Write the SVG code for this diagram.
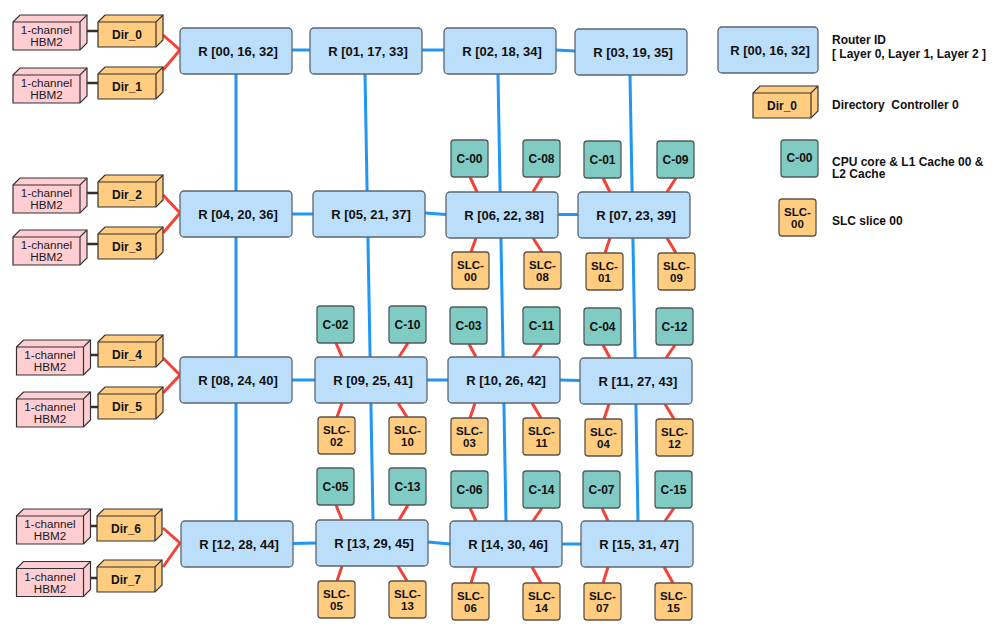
<svg xmlns="http://www.w3.org/2000/svg" xmlns:xlink="http://www.w3.org/1999/xlink" width="999" height="639" viewBox="0 0 999 639">
  <style>
    text { font-family: "Liberation Sans", Arial, sans-serif; fill: #111; }
    .router { fill: #BBDEFB; stroke: #5d6670; stroke-width: 1.3; }
    .core { fill: #80CBC4; stroke: #505a5a; stroke-width: 1.3; }
    .slc { fill: #FFCC80; stroke: #5a5448; stroke-width: 1.3; }
    .rt { font-size: 13px; font-weight: bold; text-anchor: middle; }
    .bt { font-size: 12px; font-weight: bold; text-anchor: middle; }
    .st { font-size: 11.5px; font-weight: bold; text-anchor: middle; }
    .ht { font-size: 11.7px; text-anchor: middle; fill: #1a1a1a; }
    .lt { font-size: 12px; font-weight: bold; white-space: pre; }
    .mesh { stroke: #2196F3; stroke-width: 3; fill: none; }
    .link { stroke: #F44336; stroke-width: 3; fill: none; }
    .mem { stroke: #3a2a2a; stroke-width: 2.5; fill: none; }
  </style>
  <defs>
    <!-- cube shapes for memory channels and directory controllers -->
    <g id="hbm-cube">
      <path d="M0,7 L7,0 L74,0 L74,28 L67,35 L0,35 Z" fill="#FFCDD2" stroke="#333" stroke-width="1.2"/>
      <path d="M0,7 L67,7 L74,0 M67,7 L67,35" fill="none" stroke="#333" stroke-width="1.2"/>
    </g>
    <g id="dir-cube">
      <path d="M0,7 L7,0 L65,0 L65,25 L58,32 L0,32 Z" fill="#FFCC80" stroke="#333" stroke-width="1.2"/>
      <path d="M0,7 L58,7 L65,0 M58,7 L58,32" fill="none" stroke="#333" stroke-width="1.2"/>
    </g>
  </defs>

  <!-- connectors -->
  <g id="connectors">
    <!-- mesh links: vertical -->
    <line class="mesh" x1="236" y1="74" x2="236" y2="521"/>
    <line class="mesh" x1="365" y1="74" x2="373" y2="520"/>
    <line class="mesh" x1="498" y1="74" x2="506" y2="521"/>
    <line class="mesh" x1="630" y1="75" x2="638" y2="521"/>
    <!-- mesh links: horizontal -->
    <line class="mesh" x1="292" y1="50" x2="310" y2="50"/>
    <line class="mesh" x1="422" y1="50" x2="444" y2="50"/>
    <line class="mesh" x1="556" y1="50" x2="575" y2="51"/>
    <line class="mesh" x1="292" y1="214" x2="313" y2="214"/>
    <line class="mesh" x1="425" y1="213" x2="446" y2="214.5"/>
    <line class="mesh" x1="558" y1="214.5" x2="578" y2="214.5"/>
    <line class="mesh" x1="292" y1="380" x2="315" y2="380"/>
    <line class="mesh" x1="427" y1="380" x2="448" y2="380"/>
    <line class="mesh" x1="560" y1="380" x2="580" y2="380.5"/>
    <line class="mesh" x1="293" y1="543.5" x2="316" y2="543"/>
    <line class="mesh" x1="428" y1="542" x2="450" y2="544"/>
    <line class="mesh" x1="562" y1="544" x2="581" y2="544"/>

    <!-- memory channel to directory -->
    <line class="mem" x1="87" y1="31" x2="98" y2="31"/>
    <line class="mem" x1="87" y1="83" x2="98" y2="83"/>
    <line class="mem" x1="87" y1="193" x2="98" y2="193"/>
    <line class="mem" x1="87" y1="244" x2="98" y2="244"/>
    <line class="mem" x1="90" y1="355" x2="98" y2="355"/>
    <line class="mem" x1="90" y1="407" x2="98" y2="407"/>
    <line class="mem" x1="90" y1="526" x2="97" y2="526"/>
    <line class="mem" x1="90" y1="578" x2="97" y2="578"/>

    <!-- directory to edge routers -->
    <polyline class="link" points="163,35 180,50 163,70"/>
    <polyline class="link" points="163,195 180,213 163,233"/>
    <polyline class="link" points="163,358 180,375 163,393"/>
    <polyline class="link" points="163,528 180,543 163,567"/>

    <!-- cores and SLC slices to routers: row 1 -->
    <line class="link" x1="470" y1="177" x2="477" y2="192"/>
    <line class="link" x1="542" y1="177" x2="533" y2="192"/>
    <line class="link" x1="603" y1="178" x2="610" y2="192"/>
    <line class="link" x1="676" y1="178" x2="667" y2="192"/>
    <line class="link" x1="476" y1="238" x2="471" y2="252"/>
    <line class="link" x1="533" y1="238" x2="542" y2="252"/>
    <line class="link" x1="610" y1="238" x2="605" y2="253"/>
    <line class="link" x1="667" y1="238" x2="676" y2="253"/>
    <!-- row 2 -->
    <line class="link" x1="336" y1="343" x2="342" y2="357"/>
    <line class="link" x1="408" y1="343" x2="399" y2="357"/>
    <line class="link" x1="469" y1="344" x2="476" y2="357"/>
    <line class="link" x1="542" y1="344" x2="533" y2="357"/>
    <line class="link" x1="603" y1="345" x2="610" y2="358"/>
    <line class="link" x1="675" y1="345" x2="666" y2="358"/>
    <line class="link" x1="342" y1="403" x2="337" y2="417"/>
    <line class="link" x1="398" y1="403" x2="407" y2="417"/>
    <line class="link" x1="475" y1="403" x2="470" y2="418"/>
    <line class="link" x1="532" y1="403" x2="541" y2="418"/>
    <line class="link" x1="609" y1="404" x2="604" y2="419"/>
    <line class="link" x1="665" y1="404" x2="674" y2="419"/>
    <!-- row 3 -->
    <line class="link" x1="336" y1="505" x2="342" y2="520"/>
    <line class="link" x1="408" y1="505" x2="399" y2="520"/>
    <line class="link" x1="470" y1="508" x2="476" y2="521"/>
    <line class="link" x1="542" y1="508" x2="533" y2="521"/>
    <line class="link" x1="602" y1="508" x2="608" y2="521"/>
    <line class="link" x1="674" y1="508" x2="665" y2="521"/>
    <line class="link" x1="342" y1="566" x2="337" y2="581"/>
    <line class="link" x1="398" y1="566" x2="407" y2="581"/>
    <line class="link" x1="476" y1="567" x2="471" y2="583"/>
    <line class="link" x1="532" y1="567" x2="541" y2="583"/>
    <line class="link" x1="608" y1="567" x2="603" y2="583"/>
    <line class="link" x1="664" y1="567" x2="673" y2="583"/>
  </g>

  <!-- memory channels -->
  <g id="hbm-0" transform="translate(13,15)"><use href="#hbm-cube"/><text class="ht" x="33.5" y="19">1-channel</text><text class="ht" x="33.5" y="31">HBM2</text></g>
  <g id="hbm-1" transform="translate(13,68)"><use href="#hbm-cube"/><text class="ht" x="33.5" y="19">1-channel</text><text class="ht" x="33.5" y="31">HBM2</text></g>
  <g id="hbm-2" transform="translate(13,178)"><use href="#hbm-cube"/><text class="ht" x="33.5" y="19">1-channel</text><text class="ht" x="33.5" y="31">HBM2</text></g>
  <g id="hbm-3" transform="translate(13,230)"><use href="#hbm-cube"/><text class="ht" x="33.5" y="19">1-channel</text><text class="ht" x="33.5" y="31">HBM2</text></g>
  <g id="hbm-4" transform="translate(16.5,340)"><use href="#hbm-cube"/><text class="ht" x="33.5" y="19">1-channel</text><text class="ht" x="33.5" y="31">HBM2</text></g>
  <g id="hbm-5" transform="translate(16.5,392)"><use href="#hbm-cube"/><text class="ht" x="33.5" y="19">1-channel</text><text class="ht" x="33.5" y="31">HBM2</text></g>
  <g id="hbm-6" transform="translate(16.5,509)"><use href="#hbm-cube"/><text class="ht" x="33.5" y="19">1-channel</text><text class="ht" x="33.5" y="31">HBM2</text></g>
  <g id="hbm-7" transform="translate(16.5,561.5)"><use href="#hbm-cube"/><text class="ht" x="33.5" y="19">1-channel</text><text class="ht" x="33.5" y="31">HBM2</text></g>

  <!-- directory controllers -->
  <g id="dir-0" transform="translate(98,15)"><use href="#dir-cube"/><text class="bt" x="29" y="24">Dir_0</text></g>
  <g id="dir-1" transform="translate(98,67)"><use href="#dir-cube"/><text class="bt" x="29" y="24">Dir_1</text></g>
  <g id="dir-2" transform="translate(98,175)"><use href="#dir-cube"/><text class="bt" x="29" y="24">Dir_2</text></g>
  <g id="dir-3" transform="translate(98,227)"><use href="#dir-cube"/><text class="bt" x="29" y="24">Dir_3</text></g>
  <g id="dir-4" transform="translate(98,335)"><use href="#dir-cube"/><text class="bt" x="29" y="24">Dir_4</text></g>
  <g id="dir-5" transform="translate(98,387)"><use href="#dir-cube"/><text class="bt" x="29" y="24">Dir_5</text></g>
  <g id="dir-6" transform="translate(97,509)"><use href="#dir-cube"/><text class="bt" x="29" y="24">Dir_6</text></g>
  <g id="dir-7" transform="translate(97,560)"><use href="#dir-cube"/><text class="bt" x="29" y="24">Dir_7</text></g>

  <!-- routers -->
  <g id="r00"><rect class="router" x="180" y="28" width="112" height="46" rx="4"/><text class="rt" x="238" y="55.7">R [00, 16, 32]</text></g>
  <g id="r01"><rect class="router" x="310" y="28" width="112" height="46" rx="4"/><text class="rt" x="368" y="55.7">R [01, 17, 33]</text></g>
  <g id="r02"><rect class="router" x="444" y="28" width="112" height="46" rx="4"/><text class="rt" x="502" y="55.7">R [02, 18, 34]</text></g>
  <g id="r03"><rect class="router" x="575" y="29" width="112" height="46" rx="4"/><text class="rt" x="633" y="56.7">R [03, 19, 35]</text></g>
  <g id="r04"><rect class="router" x="180" y="191" width="112" height="46" rx="4"/><text class="rt" x="238" y="218.7">R [04, 20, 36]</text></g>
  <g id="r05"><rect class="router" x="313" y="191" width="112" height="46" rx="4"/><text class="rt" x="371" y="218.7">R [05, 21, 37]</text></g>
  <g id="r06"><rect class="router" x="446" y="192" width="112" height="46" rx="4"/><text class="rt" x="504" y="219.7">R [06, 22, 38]</text></g>
  <g id="r07"><rect class="router" x="578" y="192" width="112" height="46" rx="4"/><text class="rt" x="636" y="219.7">R [07, 23, 39]</text></g>
  <g id="r08"><rect class="router" x="180" y="357" width="112" height="46" rx="4"/><text class="rt" x="238" y="384.7">R [08, 24, 40]</text></g>
  <g id="r09"><rect class="router" x="315" y="357" width="112" height="46" rx="4"/><text class="rt" x="373" y="384.7">R [09, 25, 41]</text></g>
  <g id="r10"><rect class="router" x="448" y="357" width="112" height="46" rx="4"/><text class="rt" x="506" y="384.7">R [10, 26, 42]</text></g>
  <g id="r11"><rect class="router" x="580" y="358" width="112" height="46" rx="4"/><text class="rt" x="638" y="385.7">R [11, 27, 43]</text></g>
  <g id="r12"><rect class="router" x="181" y="521" width="112" height="46" rx="4"/><text class="rt" x="239" y="548.7">R [12, 28, 44]</text></g>
  <g id="r13"><rect class="router" x="316" y="520" width="112" height="46" rx="4"/><text class="rt" x="374" y="547.7">R [13, 29, 45]</text></g>
  <g id="r14"><rect class="router" x="450" y="521" width="112" height="46" rx="4"/><text class="rt" x="508" y="548.7">R [14, 30, 46]</text></g>
  <g id="r15"><rect class="router" x="581" y="521" width="112" height="46" rx="4"/><text class="rt" x="639" y="548.7">R [15, 31, 47]</text></g>

  <!-- CPU cores -->
  <g id="c-00"><rect class="core" x="451" y="140" width="37" height="37" rx="3"/><text class="bt" x="469.5" y="162.8">C-00</text></g>
  <g id="c-08"><rect class="core" x="523" y="140" width="37" height="37" rx="3"/><text class="bt" x="541.5" y="162.8">C-08</text></g>
  <g id="c-01"><rect class="core" x="584" y="141" width="37" height="37" rx="3"/><text class="bt" x="602.5" y="163.8">C-01</text></g>
  <g id="c-09"><rect class="core" x="657" y="141" width="37" height="37" rx="3"/><text class="bt" x="675.5" y="163.8">C-09</text></g>
  <g id="c-02"><rect class="core" x="317" y="306" width="37" height="37" rx="3"/><text class="bt" x="335.5" y="328.8">C-02</text></g>
  <g id="c-10"><rect class="core" x="389" y="306" width="37" height="37" rx="3"/><text class="bt" x="407.5" y="328.8">C-10</text></g>
  <g id="c-03"><rect class="core" x="450" y="307" width="37" height="37" rx="3"/><text class="bt" x="468.5" y="329.8">C-03</text></g>
  <g id="c-11"><rect class="core" x="523" y="307" width="37" height="37" rx="3"/><text class="bt" x="541.5" y="329.8">C-11</text></g>
  <g id="c-04"><rect class="core" x="584" y="308" width="37" height="37" rx="3"/><text class="bt" x="602.5" y="330.8">C-04</text></g>
  <g id="c-12"><rect class="core" x="656" y="308" width="37" height="37" rx="3"/><text class="bt" x="674.5" y="330.8">C-12</text></g>
  <g id="c-05"><rect class="core" x="317" y="468" width="37" height="37" rx="3"/><text class="bt" x="335.5" y="490.8">C-05</text></g>
  <g id="c-13"><rect class="core" x="389" y="468" width="37" height="37" rx="3"/><text class="bt" x="407.5" y="490.8">C-13</text></g>
  <g id="c-06"><rect class="core" x="451" y="471" width="37" height="37" rx="3"/><text class="bt" x="469.5" y="493.8">C-06</text></g>
  <g id="c-14"><rect class="core" x="523" y="471" width="37" height="37" rx="3"/><text class="bt" x="541.5" y="493.8">C-14</text></g>
  <g id="c-07"><rect class="core" x="583" y="471" width="37" height="37" rx="3"/><text class="bt" x="601.5" y="493.8">C-07</text></g>
  <g id="c-15"><rect class="core" x="655" y="471" width="37" height="37" rx="3"/><text class="bt" x="673.5" y="493.8">C-15</text></g>

  <!-- SLC slices -->
  <g id="slc-00"><rect class="slc" x="452" y="252" width="37" height="37" rx="3"/><text class="st" x="470.5" y="268.8">SLC-</text><text class="st" x="470.5" y="280.8">00</text></g>
  <g id="slc-08"><rect class="slc" x="524" y="252" width="37" height="37" rx="3"/><text class="st" x="542.5" y="268.8">SLC-</text><text class="st" x="542.5" y="280.8">08</text></g>
  <g id="slc-01"><rect class="slc" x="586" y="253" width="37" height="37" rx="3"/><text class="st" x="604.5" y="269.8">SLC-</text><text class="st" x="604.5" y="281.8">01</text></g>
  <g id="slc-09"><rect class="slc" x="658" y="253" width="37" height="37" rx="3"/><text class="st" x="676.5" y="269.8">SLC-</text><text class="st" x="676.5" y="281.8">09</text></g>
  <g id="slc-02"><rect class="slc" x="318" y="417" width="37" height="37" rx="3"/><text class="st" x="336.5" y="433.8">SLC-</text><text class="st" x="336.5" y="445.8">02</text></g>
  <g id="slc-10"><rect class="slc" x="389" y="417" width="37" height="37" rx="3"/><text class="st" x="407.5" y="433.8">SLC-</text><text class="st" x="407.5" y="445.8">10</text></g>
  <g id="slc-03"><rect class="slc" x="451" y="418" width="37" height="37" rx="3"/><text class="st" x="469.5" y="434.8">SLC-</text><text class="st" x="469.5" y="446.8">03</text></g>
  <g id="slc-11"><rect class="slc" x="523" y="418" width="37" height="37" rx="3"/><text class="st" x="541.5" y="434.8">SLC-</text><text class="st" x="541.5" y="446.8">11</text></g>
  <g id="slc-04"><rect class="slc" x="585" y="419" width="37" height="37" rx="3"/><text class="st" x="603.5" y="435.8">SLC-</text><text class="st" x="603.5" y="447.8">04</text></g>
  <g id="slc-12"><rect class="slc" x="656" y="419" width="37" height="37" rx="3"/><text class="st" x="674.5" y="435.8">SLC-</text><text class="st" x="674.5" y="447.8">12</text></g>
  <g id="slc-05"><rect class="slc" x="318" y="581" width="37" height="37" rx="3"/><text class="st" x="336.5" y="597.8">SLC-</text><text class="st" x="336.5" y="609.8">05</text></g>
  <g id="slc-13"><rect class="slc" x="389" y="581" width="37" height="37" rx="3"/><text class="st" x="407.5" y="597.8">SLC-</text><text class="st" x="407.5" y="609.8">13</text></g>
  <g id="slc-06"><rect class="slc" x="452" y="583" width="37" height="37" rx="3"/><text class="st" x="470.5" y="599.8">SLC-</text><text class="st" x="470.5" y="611.8">06</text></g>
  <g id="slc-14"><rect class="slc" x="523" y="583" width="37" height="37" rx="3"/><text class="st" x="541.5" y="599.8">SLC-</text><text class="st" x="541.5" y="611.8">14</text></g>
  <g id="slc-07"><rect class="slc" x="584" y="583" width="37" height="37" rx="3"/><text class="st" x="602.5" y="599.8">SLC-</text><text class="st" x="602.5" y="611.8">07</text></g>
  <g id="slc-15"><rect class="slc" x="655" y="583" width="37" height="37" rx="3"/><text class="st" x="673.5" y="599.8">SLC-</text><text class="st" x="673.5" y="611.8">15</text></g>

  <!-- legend -->
  <g id="legend">
    <g id="legend-router"><rect class="router" x="718" y="27" width="100" height="46" rx="4"/><text class="rt" x="770" y="54.7">R [00, 16, 32]</text></g>
    <text class="lt" x="832" y="44.3">Router ID</text>
    <text class="lt" x="832" y="57.6">[ Layer 0, Layer 1, Layer 2 ]</text>
    <g id="legend-dir" transform="translate(753,86)"><use href="#dir-cube"/><text class="bt" x="29" y="24">Dir_0</text></g>
    <text class="lt" x="832" y="108.6">Directory  Controller 0</text>
    <g id="legend-core"><rect class="core" x="781" y="140" width="37" height="37" rx="3"/><text class="bt" x="799.5" y="162">C-00</text></g>
    <text class="lt" x="832" y="166">CPU core &amp; L1 Cache 00 &amp;</text>
    <text class="lt" x="832" y="178.3">L2 Cache</text>
    <g id="legend-slc"><rect class="slc" x="779" y="199" width="37" height="37" rx="3"/><text class="st" x="797.5" y="215.8">SLC-</text><text class="st" x="797.5" y="227.8">00</text></g>
    <text class="lt" x="832" y="225">SLC slice 00</text>
  </g>
</svg>
